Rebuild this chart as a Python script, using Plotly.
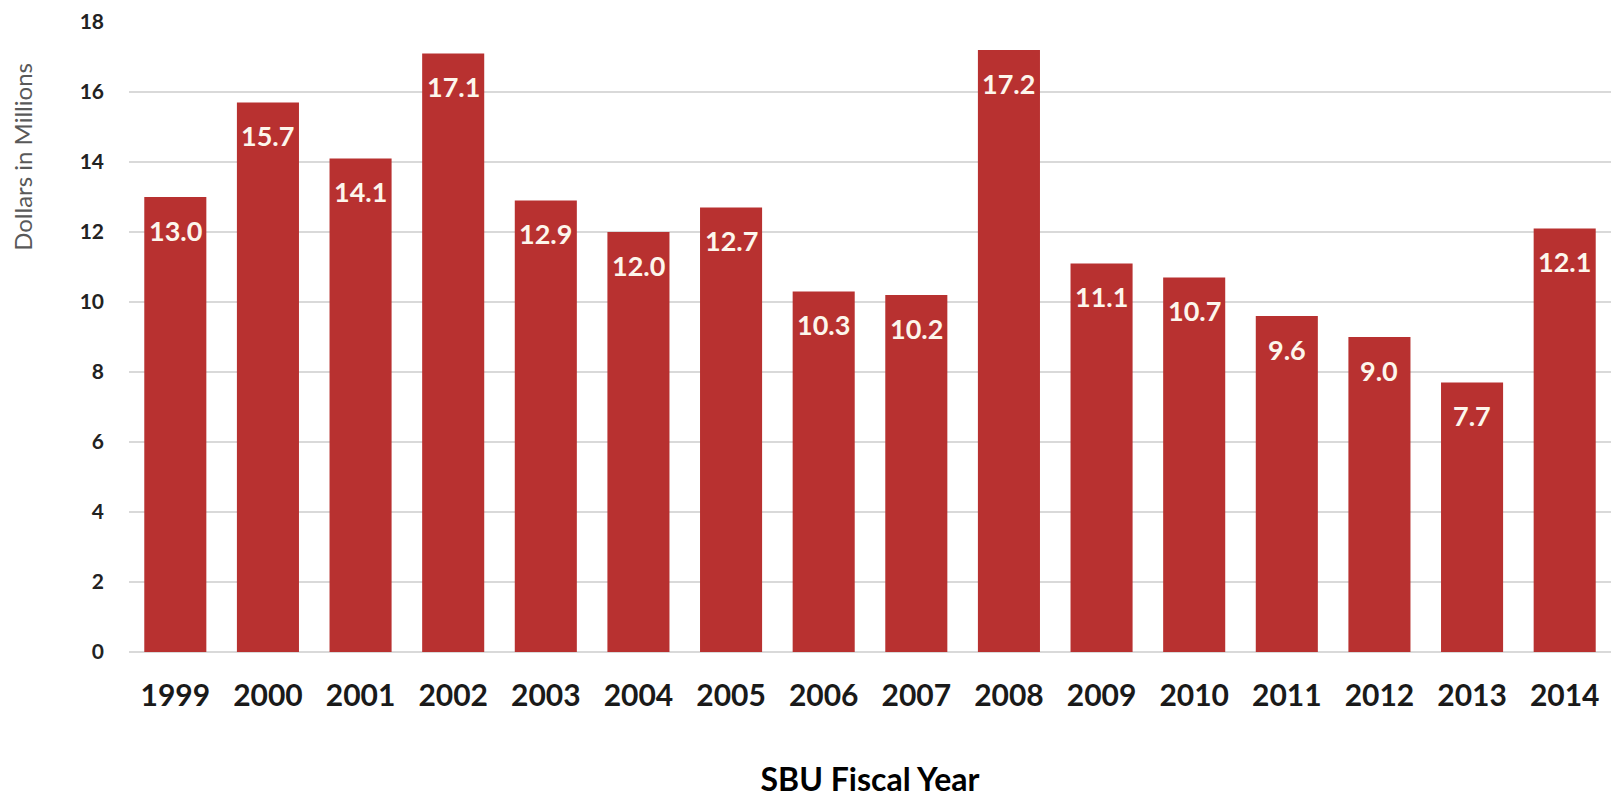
import plotly.graph_objects as go

years = ["1999", "2000", "2001", "2002", "2003", "2004", "2005", "2006",
         "2007", "2008", "2009", "2010", "2011", "2012", "2013", "2014"]
values = [13.0, 15.7, 14.1, 17.1, 12.9, 12.0, 12.7, 10.3,
          10.2, 17.2, 11.1, 10.7, 9.6, 9.0, 7.7, 12.1]
y_ticks = [0, 2, 4, 6, 8, 10, 12, 14, 16, 18]

FONT = "Lato"

fig = go.Figure()
fig.add_trace(go.Bar(
    x=years, y=values,
    marker=dict(color="#b83130", line=dict(width=0)),
    hoverinfo="x+y",
))

for i, v in enumerate(values):
    fig.add_annotation(
        x=i, y=v, xref="x", yref="y", text=f"{v:.1f}", showarrow=False,
        yanchor="middle", yshift=-33,
        font=dict(family=FONT, size=27, color="#fdf6ec", weight="bold"),
    )

# y-axis title (sits in the upper part of the left margin, as in the original)
fig.add_annotation(
    text="Dollars in Millions", textangle=-90, showarrow=False,
    xref="paper", yref="paper", x=-0.0715, y=0.786,
    xanchor="center", yanchor="middle",
    font=dict(family=FONT, size=24, color="#595959"),
)

fig.update_layout(
    width=1612, height=798,
    margin=dict(l=129, r=1, t=22, b=146),
    paper_bgcolor="white", plot_bgcolor="white",
    bargap=0.33,
    showlegend=False,
    font=dict(family=FONT),
)
fig.update_xaxes(
    type="category", automargin=False,
    tickfont=dict(family=FONT, size=30, color="#1a1a1a", weight="bold"),
    ticks="", showgrid=False, showline=False, ticklabelstandoff=23,
    title=dict(text="SBU Fiscal Year", standoff=58,
               font=dict(family=FONT, size=32, color="#000000", weight="bold")),
)
fig.update_yaxes(
    range=[0, 18], tickvals=y_ticks, automargin=False,
    tickfont=dict(family=FONT, size=21, color="#222222", weight="bold"),
    gridcolor="#d9d9d9", gridwidth=1.5,
    zeroline=True, zerolinecolor="#d9d9d9", zerolinewidth=1.5,
    ticks="", ticklabelstandoff=24,
)

fig.write_html(
    "out.html",
    config={"displayModeBar": False},
    post_script="document.body.style.margin='0';document.body.style.overflow='hidden';",
)
